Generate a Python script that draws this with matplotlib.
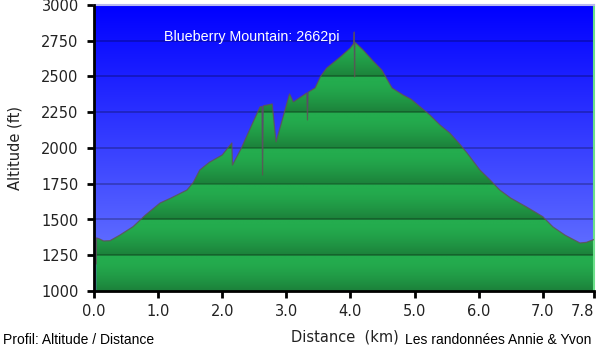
import numpy as np
import matplotlib
matplotlib.use("Agg")
import matplotlib.pyplot as plt
from matplotlib.patches import Polygon

# ---- data ----
distance_km = [0.035, 0.04, 0.08, 0.15, 0.25, 0.4, 0.61, 0.8, 1.03, 1.2, 1.45, 1.55, 1.65, 1.8,
               2.0, 2.15, 2.16, 2.3, 2.45, 2.59, 2.62, 2.63, 2.64, 2.78, 2.84, 3.05, 3.11,
               3.32, 3.33, 3.34, 3.45, 3.53, 3.63, 3.84, 4.0, 4.05, 4.06, 4.065, 4.07,
               4.2, 4.35, 4.49, 4.65, 4.82, 4.95, 5.09, 5.24, 5.4, 5.55, 5.7, 5.82, 6.02,
               6.18, 6.33, 6.5, 6.75, 7.0, 7.16, 7.35, 7.58, 7.68, 7.78, 7.8]
altitude_ft = [1190, 1371, 1365, 1350, 1352, 1390, 1450, 1530, 1615, 1650, 1706, 1760, 1846, 1900,
               1951, 2035, 1881, 2000, 2150, 2287, 2290, 1811, 2295, 2308, 2042, 2378, 2322,
               2385, 2196, 2390, 2420, 2497, 2559, 2636, 2700, 2730, 2811, 2497, 2740,
               2685, 2610, 2545, 2420, 2371, 2340, 2287, 2231, 2160, 2105, 2030, 1965, 1846,
               1776, 1706, 1650, 1587, 1520, 1448, 1390, 1336, 1340, 1357, 1360]
x_ticks = [0.0, 1.0, 2.0, 3.0, 4.0, 5.0, 6.0, 7.0, 7.8]
x_ticklabels = ["0.0", "1.0", "2.0", "3.0", "4.0", "5.0", "6.0", "7.0", "7.8"]
y_ticks = [1000, 1250, 1500, 1750, 2000, 2250, 2500, 2750, 3000]
summit_label = "Blueberry Mountain: 2662pi"

XMIN, XMAX, YMIN, YMAX = 0.0, 7.8, 1000, 3000

fig = plt.figure(figsize=(6.0, 3.54), dpi=100)
ax = fig.add_axes([94/600, 1-291/354, 500/600, 286/354])
ax.set_xlim(XMIN, XMAX)
ax.set_ylim(YMIN, YMAX)

# blue background gradient
n = 256
t = np.linspace(0, 1, n)[:, None]  # 0 top -> 1 bottom
top = np.array([0, 0, 255]) / 255
bot = np.array([112, 128, 255]) / 255
bg = (top + (bot - top) * t)[:, None, :].repeat(2, axis=1)
ax.imshow(bg, extent=[XMIN, XMAX, YMIN, YMAX], aspect='auto', origin='upper', zorder=0)

# green banded gradient
yy = np.linspace(YMAX, YMIN, 800)
frac = ((YMAX - yy) % 250) / 250.0
light = np.array([36, 172, 78]) / 255
dark = np.array([28, 128, 58]) / 255
w = np.clip((frac - 0.15) / 0.85, 0, 1) ** 1.4
green = light[None, :] + (dark - light)[None, :] * w[:, None]
green_img = green[:, None, :].repeat(2, axis=1)
im = ax.imshow(green_img, extent=[XMIN, XMAX, YMIN, YMAX], aspect='auto', origin='upper', zorder=1)
verts = [(distance_km[0], YMIN)] + list(zip(distance_km, altitude_ft)) + [(distance_km[-1], YMIN)]
poly = Polygon(verts, closed=True, facecolor='none', edgecolor='none', transform=ax.transData)
ax.add_patch(poly)
im.set_clip_path(poly)

# profile line
ax.plot(distance_km, altitude_ft, color=(0.38, 0.32, 0.32), lw=0.9, alpha=0.8, zorder=3)

# grid
for yv in y_ticks[1:-1]:
    ax.axhline(yv, color='black', alpha=0.25, lw=1.3, zorder=2)

# spines
ax.spines['top'].set_color('#b8b8f0')
ax.spines['top'].set_linewidth(1.5)
ax.spines['right'].set_color('#6be08a')
ax.spines['right'].set_linewidth(1.5)
for s in ['left', 'bottom']:
    ax.spines[s].set_color('black')
    ax.spines[s].set_linewidth(2)
    ax.spines[s].set_zorder(5)

ax.set_xticks(x_ticks)
ax.set_xticklabels(x_ticklabels)
ax.set_yticks(y_ticks)
ax.tick_params(axis='both', direction='out', length=5, width=2, color='black',
               labelsize=10.5, labelcolor='#222222')
ax.tick_params(axis='x', pad=4)
ax.tick_params(axis='y', pad=6)
ax.get_xticklabels()[-1].set_ha('right')

ax.text(2.46, 2775, summit_label, color='white', fontsize=10.3, ha='center', va='center',
        family='Liberation Sans', zorder=6)

fig.text(15/600, 1-148/354, "Altitude (ft)", rotation=90, ha='center', va='center',
         fontsize=10.5, color='#222222')
fig.text(345/600, 1-337/354, "Distance  (km)", ha='center', va='center', fontsize=10.5, color='#222222')
fig.text(3/600, 1-340/354, "Profil: Altitude / Distance", ha='left', va='center',
         fontsize=10, family='Liberation Sans', color='black')
fig.text(591/600, 1-340/354, "Les randonnées Annie & Yvon", ha='right', va='center',
         fontsize=10, family='Liberation Sans', color='black')

fig.savefig("out.png", dpi=100)
